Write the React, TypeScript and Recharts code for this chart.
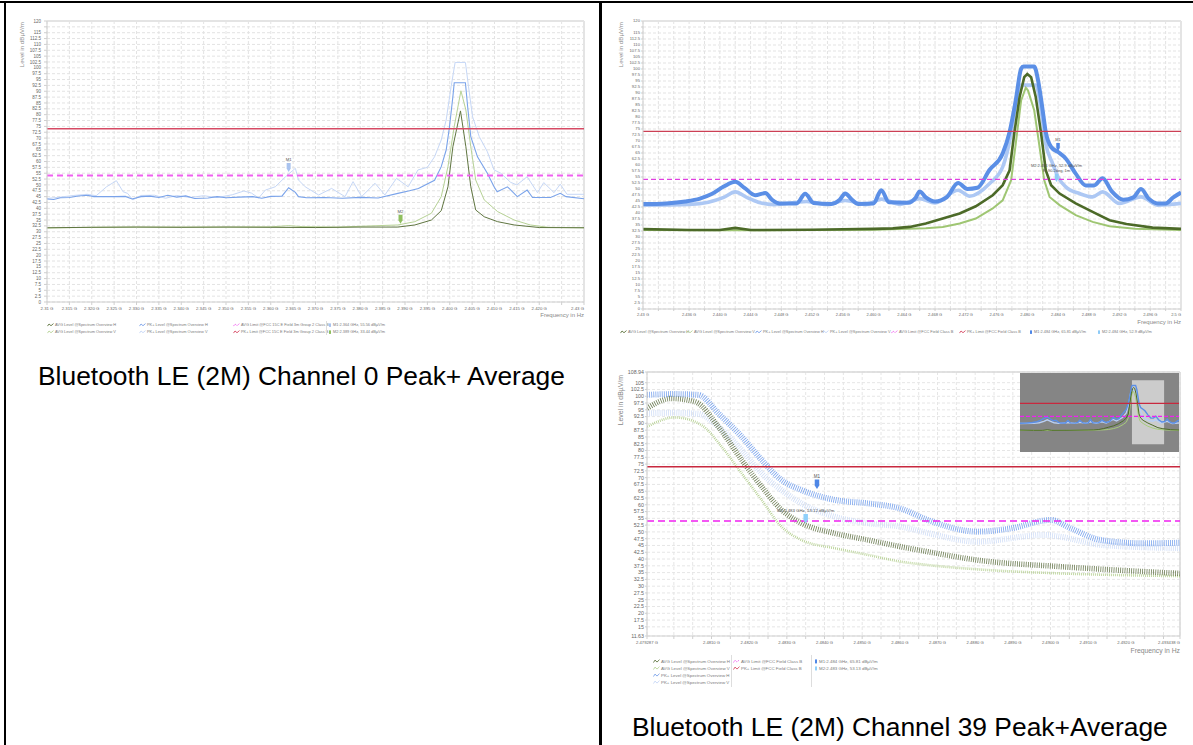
import React from 'react';
import {
  LineChart, Line, XAxis, YAxis, CartesianGrid, ReferenceLine, ReferenceDot, ReferenceArea,
} from 'recharts';

const FONT = '"Liberation Sans", Arial, sans-serif';

// ---------- Channel 0 : 2.31 – 2.43 GHz, values in dBµV/m ----------
const ch0PkH = [
  [2.310, 44.0], [2.3115, 43.8], [2.313, 44.5], [2.315, 44.6], [2.317, 45.3], [2.319, 45.6], [2.3205, 45.0],
  [2.322, 45.0], [2.325, 45.0], [2.3275, 45.1], [2.329, 44.0], [2.331, 45.0], [2.333, 45.2], [2.335, 44.6],
  [2.337, 45.6], [2.339, 44.8], [2.341, 45.3], [2.343, 44.2], [2.346, 44.4], [2.348, 45.0], [2.350, 44.5],
  [2.353, 44.8], [2.356, 45.0], [2.358, 44.3], [2.360, 45.1], [2.3625, 45.2], [2.364, 48.8], [2.3655, 46.8],
  [2.3662, 45.0], [2.368, 44.5], [2.372, 44.6], [2.376, 44.3], [2.380, 44.7], [2.384, 44.4], [2.3884, 46.4],
  [2.391, 47.5], [2.393, 48.5], [2.3966, 52.0], [2.3981, 57.8], [2.3992, 64.9], [2.3999, 74.2], [2.4007, 87.7],
  [2.4010, 93.6], [2.4035, 93.6], [2.4040, 83.4], [2.4047, 70.6], [2.4062, 62.0], [2.4084, 55.0], [2.4099, 49.2],
  [2.4106, 47.1], [2.4129, 49.2], [2.4151, 45.0], [2.4173, 47.8], [2.4185, 44.6], [2.4225, 44.6], [2.4247, 46.4],
  [2.426, 45.0], [2.430, 44.1],
];
const ch0PkV = [
  [2.310, 44.2], [2.313, 44.8], [2.316, 45.5], [2.319, 46.0], [2.321, 45.4], [2.3233, 49.2], [2.3255, 51.8],
  [2.327, 47.1], [2.328, 46.4], [2.3292, 43.6], [2.331, 45.5], [2.334, 45.6], [2.3365, 44.3], [2.339, 45.5],
  [2.342, 44.6], [2.345, 45.4], [2.348, 44.6], [2.3514, 45.8], [2.354, 47.4], [2.3557, 46.5], [2.3573, 44.4],
  [2.3588, 47.8], [2.361, 49.2], [2.3633, 53.5], [2.3655, 57.1], [2.3662, 52.1], [2.3677, 49.2], [2.3707, 45.7],
  [2.3736, 48.5], [2.3766, 45.0], [2.3784, 51.4], [2.3803, 45.0], [2.3833, 50.7], [2.3855, 45.7], [2.3881, 52.8],
  [2.3907, 49.2], [2.3929, 56.4], [2.3950, 57.5], [2.3966, 62.0], [2.3981, 69.2], [2.3992, 77.7], [2.4003, 91.9],
  [2.4012, 102.3], [2.4035, 102.3], [2.4042, 91.9], [2.4051, 79.1], [2.4066, 70.6], [2.4084, 64.2], [2.4099, 56.4],
  [2.4114, 55.0], [2.4136, 51.1], [2.415, 50.0], [2.4173, 53.5], [2.4196, 46.7], [2.4210, 51.0], [2.4233, 46.7],
  [2.4247, 50.3], [2.4262, 46.0], [2.430, 46.0],
];
const ch0AvgH = [
  [2.310, 31.7], [2.320, 31.9], [2.330, 32.0], [2.340, 31.9], [2.350, 32.0], [2.360, 31.9], [2.370, 31.8],
  [2.380, 32.0], [2.3884, 32.0], [2.3922, 32.9], [2.3959, 35.0], [2.3981, 39.0], [2.3996, 49.2], [2.4007, 66.3],
  [2.4024, 81.6], [2.4036, 66.3], [2.4047, 49.2], [2.4058, 39.3], [2.4077, 36.4], [2.4107, 34.3], [2.4144, 32.9],
  [2.420, 31.8], [2.430, 31.7],
];
const ch0AvgV = [
  [2.310, 31.6], [2.320, 31.9], [2.330, 32.0], [2.340, 32.0], [2.350, 32.0], [2.360, 32.1], [2.364, 32.6],
  [2.367, 32.2], [2.375, 32.0], [2.3884, 32.9], [2.3922, 34.3], [2.3959, 37.9], [2.3981, 45.0], [2.3996, 57.8],
  [2.4010, 74.9], [2.4025, 90.2], [2.4036, 82.0], [2.4047, 66.3], [2.4058, 52.1], [2.4077, 43.6], [2.4107, 38.6],
  [2.4144, 35.0], [2.418, 32.9], [2.422, 31.9], [2.430, 31.7],
];

// ---------- Channel 39 : 2.43 – 2.5 GHz ----------
const ch39PkH = [
  [2.430, 43.7], [2.433, 44.0], [2.4355, 44.8], [2.4374, 46.0], [2.4390, 48.0], [2.4405, 51.0], [2.4420, 53.0],
  [2.4432, 50.5], [2.4446, 47.4], [2.4459, 48.3], [2.4468, 45.5], [2.4478, 44.0], [2.4500, 44.0], [2.4511, 48.0],
  [2.4522, 44.2], [2.4545, 43.8], [2.4556, 45.5], [2.4563, 48.1], [2.4572, 45.5], [2.4580, 43.8], [2.4600, 44.0],
  [2.4610, 49.5], [2.4620, 44.5], [2.4645, 44.3], [2.4655, 46.5], [2.4660, 49.0], [2.4668, 46.5], [2.4680, 44.8],
  [2.4695, 46.5], [2.4710, 52.5], [2.4722, 50.0], [2.4735, 50.5], [2.4751, 58.0], [2.4768, 64.8], [2.4777, 73.8],
  [2.4785, 86.9], [2.4792, 100.1], [2.4795, 101.0], [2.4809, 101.0], [2.4814, 95.3], [2.4820, 82.8], [2.4824, 73.8],
  [2.4831, 67.5], [2.4840, 65.4], [2.4850, 62.7], [2.4863, 56.4], [2.4876, 51.5], [2.4887, 51.5], [2.4898, 54.5],
  [2.4910, 49.0], [2.4925, 45.5], [2.4938, 46.5], [2.4948, 50.0], [2.4958, 46.0], [2.4970, 44.0], [2.4980, 44.0],
  [2.4990, 46.5], [2.500, 48.5],
];
const ch39PkV = [
  [2.430, 43.3], [2.436, 43.6], [2.4385, 44.5], [2.4405, 46.5], [2.4420, 48.8], [2.4435, 46.5], [2.4450, 44.5],
  [2.447, 43.5], [2.4513, 44.8], [2.454, 43.5], [2.4563, 45.2], [2.459, 43.5], [2.4610, 45.8], [2.4635, 43.6],
  [2.4660, 46.0], [2.468, 44.2], [2.4710, 49.5], [2.4725, 47.0], [2.4751, 52.3], [2.4768, 59.2], [2.4779, 73.1],
  [2.4788, 91.1], [2.4792, 93.3], [2.4811, 93.3], [2.4818, 82.8], [2.4824, 68.9], [2.4833, 60.6], [2.4840, 55.0],
  [2.4850, 50.9], [2.4868, 48.1], [2.4885, 46.7], [2.4898, 48.8], [2.4920, 44.0], [2.4948, 46.7], [2.4970, 43.3],
  [2.500, 44.0],
];
const ch39AvgH = [
  [2.430, 33.3], [2.436, 32.9], [2.440, 32.9], [2.442, 33.8], [2.444, 32.9], [2.452, 33.0], [2.460, 33.4],
  [2.4625, 33.6], [2.4647, 34.2], [2.4668, 35.6], [2.4690, 37.7], [2.4712, 39.8], [2.4733, 42.8], [2.4755, 47.4],
  [2.4768, 51.6], [2.4777, 57.8], [2.4783, 73.1], [2.4790, 88.3], [2.4796, 96.6], [2.4800, 97.9], [2.4805, 96.6],
  [2.4811, 88.3], [2.4818, 73.1], [2.4824, 57.8], [2.4831, 51.6], [2.4842, 48.1], [2.4863, 44.0], [2.4885, 40.5],
  [2.4907, 37.0], [2.4929, 35.4], [2.4963, 33.9], [2.500, 33.4],
];
const ch39AvgV = [
  [2.430, 32.9], [2.440, 32.8], [2.450, 32.9], [2.460, 33.0], [2.4668, 33.6], [2.4690, 34.2], [2.4712, 35.6],
  [2.4733, 37.7], [2.4755, 41.9], [2.4768, 45.3], [2.4779, 53.7], [2.4785, 68.9], [2.4792, 86.9], [2.4798, 92.2],
  [2.4801, 91.0], [2.4809, 82.8], [2.4816, 67.5], [2.4822, 53.7], [2.4829, 46.7], [2.4842, 43.3], [2.4863, 39.1],
  [2.4885, 36.3], [2.4907, 34.5], [2.4940, 33.4], [2.500, 32.9],
];

// ---------- Channel 39 band edge zoom : 2.479287 – 2.493438 GHz ----------
const zoomPkH = [
  [2.47929, 100.5], [2.4800, 100.8], [2.48065, 100.5], [2.48118, 93.7], [2.4818, 85.1], [2.48233, 76.5],
  [2.48286, 69.1], [2.48339, 65.4], [2.48427, 61.8], [2.48516, 60.5], [2.48604, 58.5], [2.48674, 54.4],
  [2.48806, 50.1], [2.48895, 51.3], [2.49001, 54.4], [2.49054, 51.3], [2.49134, 47.0], [2.49249, 45.8],
  [2.49344, 46.0],
];
const zoomPkV = [
  [2.47929, 93.7], [2.4800, 93.9], [2.48065, 93.5], [2.48118, 88.8], [2.4818, 80.2], [2.48233, 71.6],
  [2.48286, 65.4], [2.48339, 60.5], [2.48427, 55.6], [2.48516, 53.2], [2.48604, 51.9], [2.48674, 49.6],
  [2.48806, 46.4], [2.48983, 48.9], [2.49027, 48.2], [2.49134, 45.2], [2.49344, 44.0],
];
const zoomAvgH = [
  [2.47929, 95.6], [2.47994, 99.2], [2.48056, 98.0], [2.48118, 88.8], [2.4818, 76.5], [2.48233, 66.7],
  [2.48286, 58.1], [2.48339, 53.2], [2.48427, 49.5], [2.48516, 47.0], [2.48604, 44.5], [2.48674, 42.7],
  [2.48806, 39.6], [2.49027, 37.2], [2.49204, 35.7], [2.49344, 34.7],
];
const zoomAvgV = [
  [2.47929, 88.8], [2.48003, 92.2], [2.48073, 89.4], [2.48127, 81.4], [2.4818, 71.6], [2.48233, 61.8],
  [2.48286, 51.9], [2.48339, 47.0], [2.48427, 44.0], [2.48516, 41.5], [2.48604, 39.0], [2.48674, 37.8],
  [2.48806, 36.2], [2.49027, 34.7], [2.49344, 33.7],
];

const PK_LIMIT = 74;
const AVG_LIMIT = 54;

// markers [GHz, dBµV/m]
const ch0M1 = [2.364, 55.56];
const ch0M2 = [2.389, 33.44];
const ch39M1 = [2.484, 65.81];
const ch39M2 = [2.4838, 52.9];
const zoomM1 = [2.4838, 65.81];
const zoomM2 = [2.4835, 53.13];

const levelNames = [
  'AVG Level @Spectrum Overview H', 'AVG Level @Spectrum Overview V',
  'PK+ Level @Spectrum Overview H', 'PK+ Level @Spectrum Overview V',
];
const ch0LimitNames = ['AVG Limit @FCC 15C E Field 3m Group 2 Class B', 'PK+ Limit @FCC 15C E Field 3m Group 2 Class B'];
const limitNames = ['AVG Limit @FCC Field Class  B', 'PK+ Limit @FCC Field Class  B'];
const ch0MarkerNames = ['M1:2.364 GHz, 55.56 dBµV/m', 'M2:2.389 GHz, 33.44 dBµV/m'];
const ch39MarkerNames = ['M1:2.484 GHz, 65.81 dBµV/m', 'M2:2.484 GHz, 52.9 dBµV/m'];
const zoomMarkerNames = ['M1:2.484 GHz, 65.81 dBµV/m', 'M2:2.483 GHz, 53.13 dBµV/m'];

const C = {
  avgH: '#5f7540', avgV: '#b7d296', pkH: '#7aa3ea', pkV: '#c6d7f6',
  pkLim: '#d64a64', avgLim: '#f060f0',
};

const toPts = (rows: number[][]) => rows.map(([f, v]) => ({ f, v }));
const steps = (a: number, b: number, s: number) => {
  const out: number[] = [];
  for (let i = 0; a + i * s <= b + s / 1000; i++) out.push(Math.round((a + i * s) * 1e6) / 1e6);
  return out;
};

const ch0XTicks = steps(2.31, 2.43, 0.005);
const ch0YTicks = steps(0, 120, 2.5);
const ch39XTicks = steps(2.43, 2.5, 0.002);
const zoomXTicks = [2.479287, ...steps(2.48, 2.493, 0.0005), 2.493438];
const zoomYTicks = [11.63, ...steps(15, 105, 2.5), 108.94];

const fmt0 = (v: number) => (v === 2.31 ? '2.31 G' : v === 2.43 ? '2.43 G' : v === 2.425 ? '' : v.toFixed(3) + ' G');
const fmt39 = (v: number) => {
  if (v === 2.43) return '2.43 G';
  if (v === 2.5) return '2.5 G';
  const m = Math.round(v * 1000);
  return m % 4 === 0 && m !== 2432 ? v.toFixed(3) + ' G' : '';
};
const fmtZoom = (v: number) => {
  if (v === 2.479287) return '2.479287 G';
  if (v === 2.493438) return '2.493438 G';
  const m = Math.round(v * 10000);
  return m % 10 === 0 && m >= 24810 && m <= 24920 ? v.toFixed(4) + ' G' : '';
};
const fmtY0 = (v: number) => (v === 117.5 ? '' : String(v));

const xTick = (fmt: (v: number) => string, fs: number, last: number) => (p: any) => {
  const label = fmt(p.payload.value);
  return (
    <text x={p.x} y={p.y} dy="0.71em" textAnchor={p.payload.value === last ? 'end' : 'middle'}
      fontSize={fs} fill="#666" fontFamily={FONT}>{label}</text>
  );
};
const yTick = (fmt: (v: number) => string, fs: number) => (p: any) => (
  <text x={p.x} y={p.y} dy="0.355em" textAnchor="end" fontSize={fs} fill="#666" fontFamily={FONT}>
    {fmt(p.payload.value)}
  </text>
);

function Tag(props: any) {
  const { cx, cy, color, w, h, fs, lines } = props;
  if (cx == null || cy == null) return null;
  const top = cy - h;
  return (
    <g>
      <path d={`M${cx - w / 2},${top} h${w} v${h * 0.62} L${cx},${cy} L${cx - w / 2},${top + h * 0.62} Z`} fill={color} />
      {lines.map((t: string, i: number) => (
        <text key={i} x={cx} y={top - 2 - (lines.length - 1 - i) * (fs + 1.5)} textAnchor="middle"
          fontSize={fs} fill="#555" fontFamily={FONT}>{t}</text>
      ))}
    </g>
  );
}

function Abs({ x, y, children, style }: any) {
  return <div style={{ position: 'absolute', left: x, top: y, whiteSpace: 'nowrap', ...style }}>{children}</div>;
}

function VTitle({ x, yTop, fs }: { x: number; yTop: number; fs: number }) {
  return (
    <svg style={{ position: 'absolute', left: 0, top: 0, overflow: 'visible' }} width={1} height={1}>
      <text transform="rotate(-90)" x={-yTop} y={x} textAnchor="end" fontSize={fs} fill="#888" fontFamily={FONT}>
        Level in dBµV/m
      </text>
    </svg>
  );
}

function LegendItem({ x, y, color, text, fs, marker, dashed }: any) {
  return (
    <Abs x={x} y={y - fs * 0.6} style={{ fontSize: fs, lineHeight: `${fs * 1.2}px`, color: '#7a7a7a', fontFamily: FONT }}>
      <svg width={marker ? 2 : 7} height={fs} style={{ verticalAlign: 'top', marginRight: marker ? 2 : 1 }}>
        {marker ? (
          <rect x={0} y={fs * 0.1} width={2} height={fs * 0.9} fill={color} />
        ) : (
          <path d={`M0.5,${fs * 0.8} L2,${fs * 0.25} L4,${fs * 0.7} L6.5,${fs * 0.15}`} fill="none" stroke={color}
            strokeWidth={0.9} strokeDasharray={dashed ? '1.5 0.8' : undefined} />
        )}
      </svg>
      {text}
    </Abs>
  );
}

const lineProps = { type: 'linear' as const, dataKey: 'v', dot: false, isAnimationActive: false, activeDot: false };

function Channel0Chart() {
  return (
    <div style={{ position: 'absolute', left: 0, top: 0 }}>
      <LineChart width={600} height={345} margin={{ top: 21, right: 16, bottom: 0, left: 0 }}>
        <CartesianGrid stroke="#e3e3e3" strokeDasharray="3 2" />
        <XAxis dataKey="f" type="number" domain={[2.31, 2.43]} ticks={ch0XTicks} interval={0} allowDataOverflow
          height={43} tickSize={3} tickMargin={2} stroke="#cfcfcf" tick={xTick(fmt0, 4.3, 2.43)} />
        <YAxis type="number" domain={[0, 120]} ticks={ch0YTicks} interval={0} allowDataOverflow width={47}
          tickSize={3} tickMargin={3} stroke="#cfcfcf" tick={yTick(fmtY0, 4.5)} />
        <ReferenceLine y={120} stroke="#e4e4e4" strokeWidth={2} />
        <ReferenceLine x={2.43} stroke="#e4e4e4" strokeWidth={2} />
        <Line {...lineProps} data={toPts(ch0PkV)} stroke={C.pkV} strokeWidth={1} />
        <Line {...lineProps} data={toPts(ch0PkH)} stroke={C.pkH} strokeWidth={1.1} />
        <Line {...lineProps} data={toPts(ch0AvgV)} stroke={C.avgV} strokeWidth={1} />
        <Line {...lineProps} data={toPts(ch0AvgH)} stroke={C.avgH} strokeWidth={1} />
        <ReferenceLine y={PK_LIMIT} stroke={C.pkLim} strokeWidth={1.6} />
        <ReferenceLine y={AVG_LIMIT} stroke={C.avgLim} strokeWidth={2} strokeDasharray="6 4" />
        <ReferenceDot x={ch0M1[0]} y={ch0M1[1]} r={0}
          shape={(p: any) => <Tag {...p} color="#a9c3ef" w={4} h={9} fs={4.3} lines={['M1']} />} />
        <ReferenceDot x={ch0M2[0]} y={ch0M2[1]} r={0}
          shape={(p: any) => <Tag {...p} color="#8fbf5f" w={4} h={9} fs={4.3} lines={['M2']} />} />
      </LineChart>
      <VTitle x={24} yTop={22} fs={6.2} />
      <Abs x={540} y={312} style={{ width: 44, textAlign: 'right', fontSize: 6, color: '#888', fontFamily: FONT }}>Frequency in Hz</Abs>
      <LegendItem x={47} y={325} fs={3.9} color={C.avgH} text={levelNames[0]} />
      <LegendItem x={47} y={332} fs={3.9} color={C.avgV} text={levelNames[1]} />
      <LegendItem x={139} y={325} fs={3.9} color={C.pkH} text={levelNames[2]} />
      <LegendItem x={139} y={332} fs={3.9} color={C.pkV} text={levelNames[3]} />
      <LegendItem x={233} y={325} fs={3.9} color={C.avgLim} text={ch0LimitNames[0]} dashed />
      <LegendItem x={233} y={332} fs={3.9} color={C.pkLim} text={ch0LimitNames[1]} />
      <Abs x={326} y={321} style={{ width: 0.6, height: 14, background: '#ddd' }} />
      <LegendItem x={329} y={325} fs={3.9} color="#a9c3ef" text={ch0MarkerNames[0]} marker />
      <LegendItem x={329} y={332} fs={3.9} color="#8fbf5f" text={ch0MarkerNames[1]} marker />
    </div>
  );
}

function Channel39Chart() {
  return (
    <div style={{ position: 'absolute', left: 600, top: 0 }}>
      <LineChart width={593} height={350} margin={{ top: 21, right: 12, bottom: 0, left: 0 }}>
        <CartesianGrid stroke="#e3e3e3" strokeDasharray="3 2" />
        <XAxis dataKey="f" type="number" domain={[2.43, 2.5]} ticks={ch39XTicks} interval={0} allowDataOverflow
          height={41} tickSize={2} tickMargin={2} stroke="#cfcfcf" tick={xTick(fmt39, 4, 2.5)} />
        <YAxis type="number" domain={[0, 120]} ticks={ch0YTicks} interval={0} allowDataOverflow width={43}
          tickSize={2} tickMargin={1} stroke="#cfcfcf" tick={yTick(fmtY0, 4.2)} />
        <ReferenceLine y={120} stroke="#e4e4e4" strokeWidth={2} />
        <ReferenceLine x={2.5} stroke="#e4e4e4" strokeWidth={2} />
        <Line {...lineProps} type="monotone" data={toPts(ch39PkV)} stroke="#adc8f4" strokeWidth={3.6} />
        <Line {...lineProps} type="monotone" data={toPts(ch39PkH)} stroke="#5b8fe6" strokeWidth={4} />
        <Line {...lineProps} data={toPts(ch39AvgV)} stroke="#9fc673" strokeWidth={2} />
        <Line {...lineProps} data={toPts(ch39AvgH)} stroke="#4c6a28" strokeWidth={2.6} />
        <ReferenceLine y={PK_LIMIT} stroke="#cc4055" strokeWidth={1.2} />
        <ReferenceLine y={AVG_LIMIT} stroke="#e040e0" strokeWidth={1.1} strokeDasharray="5 3" />
        <ReferenceDot x={ch39M1[0]} y={ch39M1[1]} r={0}
          shape={(p: any) => <Tag {...p} color="#4f87e6" w={3.5} h={8} fs={4} lines={['M1']} />} />
        <ReferenceDot x={ch39M2[0]} y={ch39M2[1]} r={0}
          shape={(p: any) => <Tag {...p} color="#8ecbf7" w={3.5} h={8} fs={4}
            lines={['M2:2.484 GHz, 52.9 dBµV/m', 'R: 90.2deg, 1m']} />} />
      </LineChart>
      <VTitle x={23} yTop={22} fs={6.2} />
      <Abs x={536} y={319} style={{ width: 45, textAlign: 'right', fontSize: 6, color: '#888', fontFamily: FONT }}>Frequency in Hz</Abs>
      <LegendItem x={20} y={332} fs={3.9} color={C.avgH} text={levelNames[0]} />
      <LegendItem x={86} y={332} fs={3.9} color={C.avgV} text={levelNames[1]} />
      <LegendItem x={155} y={332} fs={3.9} color={C.pkH} text={levelNames[2]} />
      <LegendItem x={222} y={332} fs={3.9} color={C.pkV} text={levelNames[3]} />
      <LegendItem x={291} y={332} fs={3.9} color={C.avgLim} text={limitNames[0]} dashed />
      <LegendItem x={359} y={332} fs={3.9} color={C.pkLim} text={limitNames[1]} />
      <LegendItem x={430} y={332} fs={3.9} color="#4f87e6" text={ch39MarkerNames[0]} marker />
      <LegendItem x={498} y={332} fs={3.9} color="#8ecbf7" text={ch39MarkerNames[1]} marker />
    </div>
  );
}

function ZoomChart() {
  return (
    <div style={{ position: 'absolute', left: 600, top: 350 }}>
      <LineChart width={593} height={310} margin={{ top: 22, right: 13, bottom: 0, left: 0 }}>
        <CartesianGrid stroke="#e6e6e6" strokeDasharray="3 2" />
        <XAxis dataKey="f" type="number" domain={[2.479287, 2.493438]} ticks={zoomXTicks} interval={0} allowDataOverflow
          height={24} tickSize={3} tickMargin={2} stroke="#cfcfcf" tick={xTick(fmtZoom, 4.2, 2.493438)} />
        <YAxis type="number" domain={[11.63, 108.94]} ticks={zoomYTicks} interval={0} allowDataOverflow width={47}
          tickSize={2} tickMargin={1} stroke="#cfcfcf" tick={yTick(String, 5.3)} />
        <ReferenceLine y={108.94} stroke="#d8d8d8" strokeWidth={1.5} />
        <ReferenceLine x={2.493438} stroke="#d8d8d8" strokeWidth={1.5} />
        <Line {...lineProps} type="monotone" data={toPts(zoomPkV)} stroke="#cbdaf6" strokeWidth={6} strokeDasharray="0.7 1.4" />
        <Line {...lineProps} type="monotone" data={toPts(zoomAvgV)} stroke="#b2ce8c" strokeWidth={2.6} strokeDasharray="0.8 1.2" />
        <Line {...lineProps} type="monotone" data={toPts(zoomAvgH)} stroke="#5d6f40" strokeWidth={5.5} strokeDasharray="0.8 1.4" strokeOpacity={0.9} />
        <Line {...lineProps} type="monotone" data={toPts(zoomPkH)} stroke="#7aa4ee" strokeWidth={6} strokeDasharray="0.8 1.3" />
        <ReferenceLine y={PK_LIMIT} stroke="#c8283e" strokeWidth={1.5} />
        <ReferenceLine y={AVG_LIMIT} stroke="#f020f0" strokeWidth={1.5} strokeDasharray="7 4" />
        <ReferenceDot x={zoomM1[0]} y={zoomM1[1]} r={0}
          shape={(p: any) => <Tag {...p} color="#4f87e6" w={4.5} h={9.5} fs={4.5} lines={['M1']} />} />
        <ReferenceDot x={zoomM2[0]} y={zoomM2[1]} r={0}
          shape={(p: any) => <Tag {...p} color="#8fd0fa" w={4.5} h={9.5} fs={4.3} lines={['M2:2.483 GHz, 53.12 dBµV/m']} />} />
      </LineChart>
      <div style={{ position: 'absolute', left: 420, top: 23, width: 159, height: 79, background: '#858585' }}>
        <LineChart width={159} height={79} margin={{ top: 0, right: 0, bottom: 0, left: 0 }}>
          <XAxis dataKey="f" type="number" domain={[2.43, 2.5]} hide allowDataOverflow />
          <YAxis type="number" domain={[0, 120]} hide allowDataOverflow />
          <Line {...lineProps} data={toPts(ch39PkV)} stroke="#b9cff5" strokeWidth={1.4} />
          <Line {...lineProps} data={toPts(ch39PkH)} stroke="#5b8fe6" strokeWidth={1.4} />
          <Line {...lineProps} data={toPts(ch39AvgV)} stroke="#a8cc7c" strokeWidth={1} />
          <Line {...lineProps} data={toPts(ch39AvgH)} stroke="#4c6a28" strokeWidth={1} />
          <ReferenceLine y={PK_LIMIT} stroke="#c8283e" strokeWidth={1.3} />
          <ReferenceLine y={AVG_LIMIT} stroke="#f020f0" strokeWidth={1.3} strokeDasharray="4 2" />
          <ReferenceArea x1={2.479287} x2={2.493438} y1={11.63} y2={108.94} fill="#e8e8e8" fillOpacity={0.72} stroke="none" />
        </LineChart>
      </div>
      <VTitle x={23} yTop={25} fs={6.9} />
      <Abs x={525} y={297} style={{ width: 55, textAlign: 'right', fontSize: 6.8, color: '#888', fontFamily: FONT }}>Frequency in Hz</Abs>
      <LegendItem x={53} y={312} fs={4.4} color={C.avgH} text={levelNames[0]} />
      <LegendItem x={53} y={319} fs={4.4} color={C.avgV} text={levelNames[1]} />
      <LegendItem x={53} y={326} fs={4.4} color={C.pkH} text={levelNames[2]} />
      <LegendItem x={53} y={333} fs={4.4} color={C.pkV} text={levelNames[3]} />
      <Abs x={131} y={305} style={{ width: 0.6, height: 32, background: '#ddd' }} />
      <LegendItem x={133} y={312} fs={4.4} color={C.avgLim} text={limitNames[0]} dashed />
      <LegendItem x={133} y={319} fs={4.4} color={C.pkLim} text={limitNames[1]} />
      <Abs x={211} y={305} style={{ width: 0.6, height: 32, background: '#ddd' }} />
      <LegendItem x={215} y={312} fs={4.4} color="#4f87e6" text={zoomMarkerNames[0]} marker />
      <LegendItem x={215} y={319} fs={4.4} color="#8fd0fa" text={zoomMarkerNames[1]} marker />
    </div>
  );
}

export default function App() {
  return (
    <div style={{ position: 'absolute', left: 0, top: 0, width: 1193, height: 745, background: '#fff', overflow: 'hidden' }}>
      <div style={{ position: 'absolute', left: 0, top: 1, width: 1193, height: 2, background: '#000' }} />
      <div style={{ position: 'absolute', left: 4, top: 1, width: 2, height: 744, background: '#000' }} />
      <div style={{ position: 'absolute', left: 599, top: 1, width: 3, height: 744, background: '#000' }} />
      <Channel0Chart />
      <Channel39Chart />
      <ZoomChart />
      <Abs x={38} y={363} style={{ fontSize: 26.4, lineHeight: '26px', fontFamily: FONT, color: '#000' }}>
        Bluetooth LE (2M) Channel 0 Peak+ Average
      </Abs>
      <Abs x={632} y={714} style={{ fontSize: 26.4, lineHeight: '26px', fontFamily: FONT, color: '#000' }}>
        Bluetooth LE (2M) Channel 39 Peak+Average
      </Abs>
    </div>
  );
}
